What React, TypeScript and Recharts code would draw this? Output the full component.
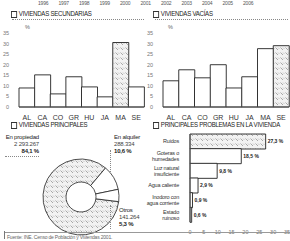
import React from "react";
import {
  Bar,
  BarChart,
  Cell,
  LabelList,
  Pie,
  PieChart,
  XAxis,
  YAxis,
} from "recharts";

const years = ["1996", "1997", "1998", "1999", "2000", "2001", "2002", "2003", "2004", "2005", "2006"];
const regions = ["AL", "CA", "CO", "GR", "HU", "JA", "MA", "SE"];
const secundarias = [9, 15.2, 6.2, 14.3, 9.5, 4.8, 30.5, 9.5];
const vacias = [12.4, 17.6, 13.8, 20, 9, 14.3, 27.6, 29];
const pctTicks = [0, 5, 10, 15, 20, 25, 30, 35];

const tenencia = ["En propiedad", "En alquiler", "Otros"];
const tenenciaValues = [2293267, 288334, 141264];
const tenenciaLabels = ["2 293.267", "288.334", "141.264"];
const tenenciaPct = ["84,1 %", "10,6 %", "5,3 %"];

const problemas = [
  "Ruidos",
  "Goteras o humedades",
  "Luz natural insuficiente",
  "Agua caliente",
  "Inodoro con agua corriente",
  "Estado ruinoso",
];
const problemasLines = [
  ["Ruidos"],
  ["Goteras o", "humedades"],
  ["Luz natural", "insuficiente"],
  ["Agua caliente"],
  ["Inodoro con", "agua corriente"],
  ["Estado", "ruinoso"],
];
const problemasValues = [27.3, 18.5, 9.8, 2.9, 0.9, 0.6];

const secData = regions.map((r, i) => ({ name: r, value: secundarias[i] }));
const vacData = regions.map((r, i) => ({ name: r, value: vacias[i] }));
const tenData = tenencia.map((t, i) => ({ name: t, value: tenenciaValues[i] }));
const probData = problemas.map((p, i) => ({ name: p, value: problemasValues[i] }));

const sans = "'Liberation Sans', Arial, sans-serif";
const ink = "#222";
const HATCH = "url(#hatch)";

const Title = ({ x, y, text }: { x: number; y: number; text: string }) => (
  <div
    style={{
      position: "absolute",
      left: x,
      top: y,
      fontFamily: sans,
      fontSize: 7,
      letterSpacing: -0.3,
      color: ink,
      whiteSpace: "nowrap",
      lineHeight: "8px",
      display: "flex",
      alignItems: "center",
      transform: "scaleX(0.87)",
      transformOrigin: "left center",
    }}
  >
    <span
      style={{
        display: "inline-block",
        width: 5,
        height: 5,
        border: "1px solid #333",
        marginRight: 2,
      }}
    />
    {text}
  </div>
);

const Txt = ({
  x,
  y,
  children,
  align = "left",
  bold = false,
  size = 6,
  color = ink,
}: {
  x: number;
  y: number;
  children: React.ReactNode;
  align?: "left" | "right";
  bold?: boolean;
  size?: number;
  color?: string;
}) => (
  <div
    style={{
      position: "absolute",
      top: y,
      ...(align === "left" ? { left: x } : { right: 290 - x }),
      fontFamily: sans,
      fontSize: size,
      letterSpacing: -0.2,
      fontWeight: bold ? 700 : 400,
      color,
      whiteSpace: "nowrap",
      lineHeight: `${size + 1}px`,
      textAlign: align,
    }}
  >
    {children}
  </div>
);

const HLine = ({ x, y, w, dotted = true }: { x: number; y: number; w: number; dotted?: boolean }) => (
  <div
    style={{
      position: "absolute",
      left: x,
      top: y,
      width: w,
      height: 0,
      borderTop: dotted ? "1px dotted #888" : "1px solid #999",
    }}
  />
);

const VLine = ({ x, y, h }: { x: number; y: number; h: number }) => (
  <div
    style={{
      position: "absolute",
      left: x,
      top: y,
      width: 0,
      height: h,
      borderLeft: "1px dotted #888",
    }}
  />
);

const ProbTick = (props: any) => {
  const { x, y, payload } = props;
  const lines = problemasLines[payload.index] || [payload.value];
  const start = -((lines.length - 1) * 6) / 2;
  return (
    <text x={x - 3} y={y} textAnchor="end" fontSize={5.5} fill="#333" fontFamily={sans} letterSpacing={-0.2}>
      {lines.map((l: string, i: number) => (
        <tspan key={i} x={x - 3} y={y + start + i * 6} dy={2}>
          {l}
        </tspan>
      ))}
    </text>
  );
};

const RegionBars = ({ data, hatched, yWidth }: { data: any[]; hatched: number; yWidth: number }) => (
  <BarChart
    width={145}
    height={98}
    data={data}
    barCategoryGap={0}
    margin={{ top: 11, right: 1, left: 0, bottom: 0 }}
  >
    <XAxis
      dataKey="name"
      height={13}
      tickLine={false}
      axisLine={{ stroke: "#555" }}
      tick={{ fontSize: 7, fill: "#333", fontFamily: sans }}
      interval={0}
    />
    <YAxis
      width={yWidth}
      domain={[0, 35]}
      ticks={pctTicks}
      tickLine={false}
      axisLine={false}
      tickMargin={4}
      tick={{ fontSize: 5.5, fill: "#777", fontFamily: sans }}
      interval={0}
    />
    <Bar dataKey="value" stroke={ink} strokeWidth={0.9} isAnimationActive={false}>
      {data.map((_, i) => (
        <Cell key={i} fill={i === hatched ? HATCH : "#fff"} />
      ))}
    </Bar>
  </BarChart>
);

export default function App() {
  return (
    <div
      style={{
        position: "absolute",
        left: 0,
        top: 0,
        width: 290,
        height: 241,
        overflow: "hidden",
        background: "#fff",
      }}
    >
      <svg width={0} height={0} style={{ position: "absolute" }}>
        <defs>
          <pattern id="hatch" width={5} height={5} patternUnits="userSpaceOnUse">
            <rect width={5} height={5} fill="#f2f2f2" />
            <path d="M0.5,0.5 L3,3" stroke="#888" strokeWidth={0.7} />
            <path d="M3,0.5 L4.5,2" stroke="#aaa" strokeWidth={0.6} />
          </pattern>
        </defs>
      </svg>

      {years.map((y, i) => (
        <Txt key={y} x={38 + i * 20.5} y={0} size={5} color="#555">
          {y}
        </Txt>
      ))}

      <Title x={11} y={10} text="VIVIENDAS SECUNDARIAS" />
      <Title x={153} y={10} text="VIVIENDAS VACÍAS" />
      <HLine x={12} y={19} w={132} />
      <HLine x={155} y={19} w={133} />

      <Txt x={25} y={24} size={5.5} color="#666">%</Txt>
      <Txt x={168} y={24} size={5.5} color="#666">%</Txt>

      <div style={{ position: "absolute", left: 0, top: 22 }}>
        <RegionBars data={secData} hatched={6} yWidth={19} />
      </div>
      <div style={{ position: "absolute", left: 145, top: 22 }}>
        <RegionBars data={vacData} hatched={7} yWidth={18} />
      </div>

      <Title x={11} y={121} text="VIVIENDAS PRINCIPALES" />
      <Title x={153} y={121} text="PRINCIPALES PROBLEMAS EN LA VIVIENDA" />

      <div style={{ position: "absolute", left: 0, top: 125 }}>
        <PieChart width={150} height={112}>
          <Pie
            data={tenData}
            dataKey="value"
            cx={76}
            cy={67}
            innerRadius={15}
            outerRadius={38}
            startAngle={353}
            endAngle={-7}
            stroke={ink}
            strokeWidth={0.8}
            isAnimationActive={false}
          >
            {tenData.map((_, i) => (
              <Cell key={i} fill={i === 0 ? HATCH : "#fff"} />
            ))}
          </Pie>
        </PieChart>
      </div>

      <Txt x={39} y={134} align="right">{tenencia[0]}</Txt>
      <Txt x={39} y={141} align="right" color="#444">{tenenciaLabels[0]}</Txt>
      <Txt x={39} y={148} align="right" bold>{tenenciaPct[0]}</Txt>
      <HLine x={5} y={156} w={34} />

      <Txt x={114} y={134}>{tenencia[1]}</Txt>
      <Txt x={114} y={141} color="#444">{tenenciaLabels[1]}</Txt>
      <Txt x={114} y={148} bold>{tenenciaPct[1]}</Txt>
      <VLine x={110} y={150} h={22} />

      <Txt x={119} y={207}>{tenencia[2]}</Txt>
      <Txt x={119} y={214} color="#444">{tenenciaLabels[2]}</Txt>
      <Txt x={119} y={221} bold>{tenenciaPct[2]}</Txt>
      <VLine x={110} y={205} h={24} />

      <div style={{ position: "absolute", left: 145, top: 128 }}>
        <BarChart
          width={145}
          height={106}
          data={probData}
          layout="vertical"
          barCategoryGap={0}
          margin={{ top: 6, right: 3, left: 0, bottom: 0 }}
        >
          <XAxis
            type="number"
            domain={[0, 35]}
            ticks={pctTicks}
            height={12}
            tickLine={false}
            axisLine={false}
            tick={{ fontSize: 5.5, fill: "#777", fontFamily: sans }}
            interval={0}
          />
          <YAxis
            type="category"
            dataKey="name"
            width={45}
            tickLine={false}
            axisLine={{ stroke: "#555" }}
            tick={<ProbTick />}
            interval={0}
          />
          <Bar dataKey="value" stroke={ink} strokeWidth={0.9} isAnimationActive={false}>
            {probData.map((_, i) => (
              <Cell key={i} fill={i === 0 ? HATCH : "#fff"} />
            ))}
            <LabelList
              dataKey="value"
              position="right"
              offset={2}
              formatter={(v: any) => `${String(v).replace(".", ",")}\u00a0%`}
              style={{ fontSize: 5, fill: ink, fontFamily: sans, fontWeight: 700 }}
            />
          </Bar>
        </BarChart>
      </div>

      <HLine x={4} y={232} w={286} dotted={false} />
      <div style={{ position: "absolute", left: 4, top: 231, width: 0, height: 8, borderLeft: "1px solid #777" }} />
      <Txt x={7} y={234} size={5} color="#666">Fuente: INE. Censo de Población y Viviendas 2001.</Txt>
    </div>
  );
}
